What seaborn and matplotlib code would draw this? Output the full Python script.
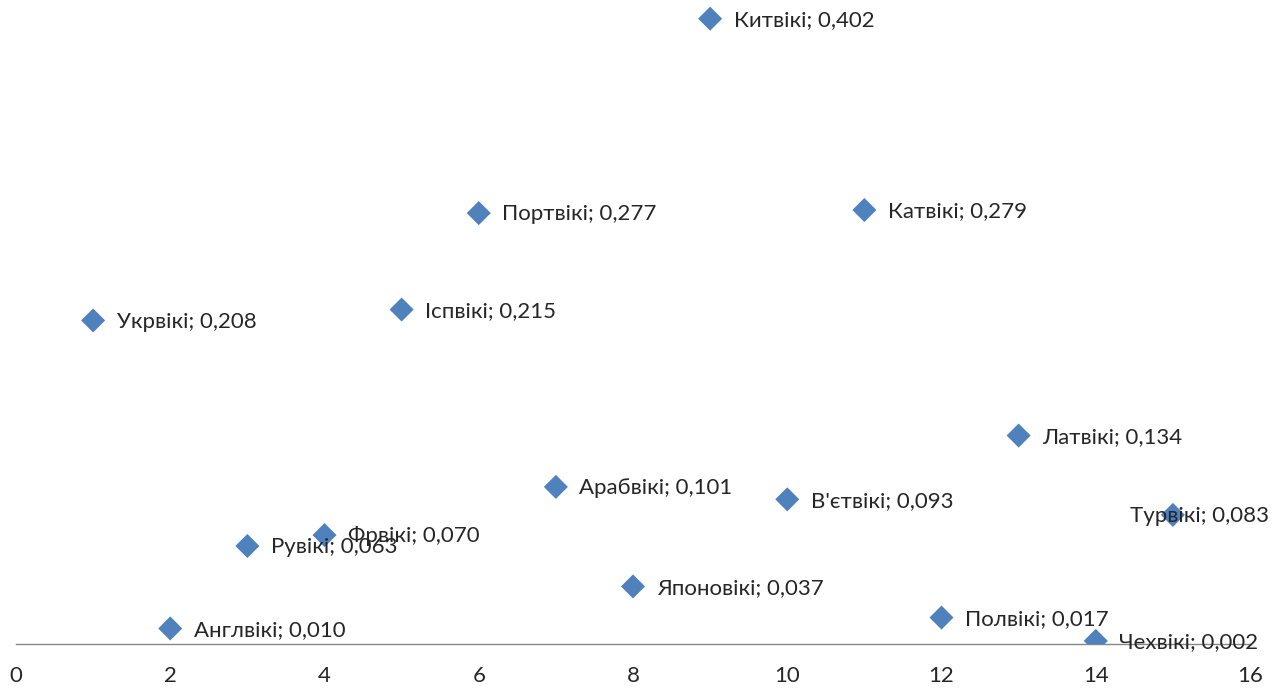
import seaborn as sns
import matplotlib.pyplot as plt
import pandas as pd

sns.set_style("white")
plt.rcParams["font.family"] = ["Lato", "DejaVu Sans"]

# Wikipedia language editions and their values
wikis = ["Укрвікі", "Англвікі", "Рувікі", "Фрвікі", "Іспвікі", "Портвікі",
         "Арабвікі", "Японовікі", "Китвікі", "В'єтвікі", "Катвікі", "Полвікі",
         "Латвікі", "Чехвікі", "Турвікі"]
rank = [1, 2, 3, 4, 5, 6, 7, 8, 9, 10, 11, 12, 13, 14, 15]
values = [0.208, 0.010, 0.063, 0.070, 0.215, 0.277, 0.101, 0.037, 0.402,
          0.093, 0.279, 0.017, 0.134, 0.002, 0.083]
x_ticks = [0, 2, 4, 6, 8, 10, 12, 14, 16]

df = pd.DataFrame({"rank": rank, "value": values, "wiki": wikis})

fig = plt.figure(figsize=(12.72, 6.88), dpi=100)
ax = fig.add_axes([16 / 1272, 44 / 688, 1234 / 1272, 644 / 688])

sns.scatterplot(data=df, x="rank", y="value", marker="D", s=150,
                color="#4F81BD", edgecolor="none", ax=ax, zorder=3)

for _, row in df.iterrows():
    label = f"{row['wiki']}; {row['value']:.3f}".replace(".", ",")
    # last point's label would run off the right edge, Excel shifts it left
    dx = -31 if row["rank"] == 15 else 17
    ax.annotate(label, (row["rank"], row["value"]), xytext=(dx, -1),
                textcoords="offset points", va="center", ha="left",
                fontsize=16, color="#262626", zorder=4,
                annotation_clip=False)

ax.set_xlim(0, 16)
ax.set_ylim(0, 0.414)
ax.set_xticks(x_ticks)
ax.set_yticks([])
ax.set_xlabel("")
ax.set_ylabel("")
ax.tick_params(axis="x", length=0, pad=16, labelsize=16, labelcolor="#262626")
for side in ["left", "top", "right"]:
    ax.spines[side].set_visible(False)
ax.spines["bottom"].set_color("#868686")
ax.spines["bottom"].set_linewidth(1)
ax.patch.set_alpha(0)

fig.savefig("out.png", dpi=100)
